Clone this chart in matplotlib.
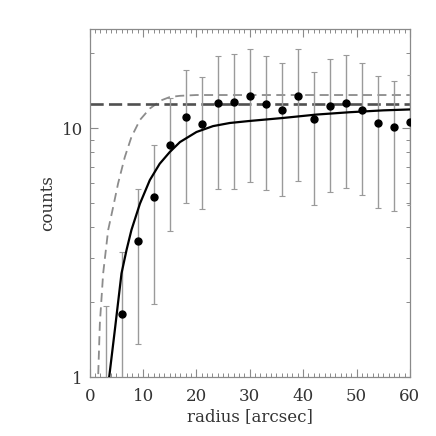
import numpy as np
import matplotlib
matplotlib.use("Agg")
import matplotlib.pyplot as plt
from matplotlib.ticker import MultipleLocator, LogLocator, NullFormatter, FixedFormatter, FixedLocator

# binned counts vs radius, with 1-sigma errors
radius = [3, 6, 9, 12, 15, 18, 21, 24, 27, 30, 33, 36, 39, 42, 45, 48, 51, 54, 57, 60]
counts = [0.7, 1.80, 3.53, 5.27, 8.55, 11.1, 10.44, 12.64, 12.75, 13.45, 12.57,
          11.81, 13.53, 10.9, 12.29, 12.69, 11.84, 10.5, 10.09, 10.6]
count_err = [1.23, 1.39, 2.17, 3.3, 4.7, 6.07, 5.7, 6.95, 7.04, 7.35, 6.9,
             6.45, 7.38, 6.0, 6.74, 6.95, 6.47, 5.7, 5.44, 5.7]

# model curves
model_r = [3.5, 3.63, 4.69, 5.94, 6.88, 7.8, 9.4, 11.25, 13.1, 15, 16.9, 20,
           23.1, 26.25, 30, 36.25, 42.5, 48.75, 55, 60]
model_c = [0.9, 1.0, 1.545, 2.61, 3.24, 3.9, 4.98, 6.19, 7.2, 8.03, 8.8, 9.66,
           10.2, 10.5, 10.7, 11.0, 11.35, 11.6, 11.8, 11.9]

psf_r = [1.45, 1.56, 1.88, 2.5, 3.44, 4.38, 5.3, 6.56, 7.8, 9.4, 11.25, 13.4,
         15.0, 16.9, 20, 60]
psf_c = [0.9, 1.0, 1.64, 2.61, 3.9, 4.83, 6.0, 7.66, 9.22, 10.8, 12.0, 12.95,
         13.35, 13.5, 13.6, 13.6]

bkg_level = 12.55

plt.rcParams['font.family'] = ['DejaVu Serif']
plt.rcParams['font.size'] = 12

fig = plt.figure(figsize=(4.36, 4.36), dpi=100)
ax = fig.add_axes([0.206, 0.135, 0.734, 0.798])

counts = np.array(counts)
count_err = np.array(count_err)
err_lo = np.minimum(count_err, counts * 0.9)
ax.errorbar(radius, counts, yerr=[err_lo, count_err], fmt='o', color='black',
            ms=5, ecolor='#9a9a9a', elinewidth=1.0, capsize=2.3, capthick=0.8,
            zorder=3)

ax.plot(model_r, model_c, color='black', lw=1.6, zorder=4)
ax.plot(psf_r, psf_c, color='#8c8c8c', lw=1.3, dashes=(5, 3), zorder=2)
ax.axhline(bkg_level, color='#505050', lw=1.9, dashes=(5, 2), zorder=2)

ax.set_yscale('log')
ax.set_xlim(0, 60)
ax.set_ylim(1, 25)

ax.xaxis.set_major_locator(MultipleLocator(10))
ax.xaxis.set_minor_locator(MultipleLocator(1))
ax.yaxis.set_major_locator(FixedLocator([1, 10]))
ax.yaxis.set_major_formatter(FixedFormatter(['1', '10']))
ax.yaxis.set_minor_locator(LogLocator(base=10, subs=np.arange(2, 10)))
ax.yaxis.set_minor_formatter(NullFormatter())

for s in ax.spines.values():
    s.set_color('#8a8a8a')
    s.set_linewidth(0.9)
ax.tick_params(which='both', direction='in', top=True, right=True, color='#8a8a8a')
ax.tick_params(which='major', length=6, width=0.8)
ax.tick_params(which='minor', length=3, width=0.7)
ax.tick_params(axis='x', pad=8, labelcolor='#333333')
ax.tick_params(axis='y', pad=5, labelcolor='#333333')

ax.set_xlabel('radius [arcsec]', color='#333333', labelpad=2)
ax.set_ylabel('counts', color='#333333', labelpad=4)

fig.savefig('out.png', dpi=100)
